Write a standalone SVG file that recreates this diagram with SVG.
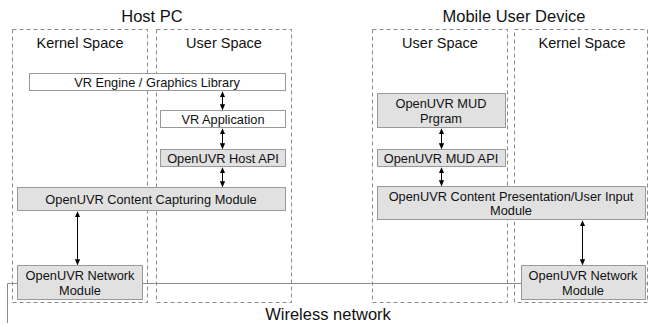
<svg xmlns="http://www.w3.org/2000/svg" width="651" height="324" viewBox="0 0 651 324">
<defs>
<marker id="ah" viewBox="0 0 8 8" refX="7" refY="4" markerWidth="6" markerHeight="6" orient="auto-start-reverse" markerUnits="userSpaceOnUse">
<path d="M0,0.5 L8,4 L0,7.5 Z" fill="#000"/>
</marker>
<style>
text{font-family:"Liberation Sans",Arial,Helvetica,sans-serif;fill:#111;text-anchor:middle}
.title{font-size:16.5px}
.sp{font-size:14.5px}
.bt{font-size:12.8px}
.dash{fill:none;stroke:#8a8a8a;stroke-width:1;stroke-dasharray:4,3}
.w{fill:#fff;stroke:#999;stroke-width:1}
.g{fill:#e1e1e1;stroke:#999;stroke-width:1}
.arr{stroke:#000;stroke-width:1;fill:none;marker-start:url(#ah);marker-end:url(#ah)}
.net{fill:none;stroke:#8a8a8a;stroke-width:1}
</style>
</defs>
<rect width="651" height="324" fill="#fff"/>

<g id="wireless">
<polyline class="net" points="7.5,323 7.5,283.5 648,283.5"/>
<text class="title" x="328" y="320">Wireless network</text>
</g>

<g id="host-pc">
<text class="title" x="152" y="22">Host PC</text>
<g id="host-kernel">
<rect class="dash" x="12.5" y="29.5" width="135" height="273"/>
<text class="sp" x="80" y="48">Kernel Space</text>
</g>
<g id="host-user">
<rect class="dash" x="156.5" y="29.5" width="135" height="273"/>
<text class="sp" x="224" y="48">User Space</text>
</g>
</g>

<g id="mud">
<text class="title" x="514" y="22">Mobile User Device</text>
<g id="mud-user">
<rect class="dash" x="372.5" y="29.5" width="135" height="273"/>
<text class="sp" x="440" y="48">User Space</text>
</g>
<g id="mud-kernel">
<rect class="dash" x="514.5" y="29.5" width="133" height="273"/>
<text class="sp" x="582" y="48">Kernel Space</text>
</g>
</g>

<g id="vr-engine">
<rect class="w" x="29.5" y="73.5" width="256" height="17"/>
<text class="bt" x="157" y="86.5">VR Engine / Graphics Library</text>
</g>
<g id="vr-app">
<rect class="w" x="160.5" y="110.5" width="125" height="17"/>
<text class="bt" x="223" y="123.5">VR Application</text>
</g>
<g id="host-api">
<rect class="g" x="160.5" y="149.5" width="125" height="17"/>
<text class="bt" x="223" y="162.5">OpenUVR Host API</text>
</g>
<g id="capture">
<rect class="g" x="17.5" y="187.5" width="268" height="23"/>
<text class="bt" x="151" y="203.5">OpenUVR Content Capturing Module</text>
</g>
<g id="host-net">
<rect class="g" x="17.5" y="265.5" width="125" height="34"/>
<text class="bt" x="80" y="279.5">OpenUVR Network</text>
<text class="bt" x="80" y="294.5">Module</text>
</g>

<g id="mud-program">
<rect class="g" x="377.5" y="93.5" width="128" height="34"/>
<text class="bt" x="441" y="108">OpenUVR MUD</text>
<text class="bt" x="441" y="122.5">Prgram</text>
</g>
<g id="mud-api">
<rect class="g" x="377.5" y="149.5" width="128" height="17"/>
<text class="bt" x="441" y="162.5">OpenUVR MUD API</text>
</g>
<g id="presentation">
<rect class="g" x="377.5" y="186.5" width="268" height="33"/>
<text class="bt" x="511" y="201">OpenUVR Content Presentation/User Input</text>
<text class="bt" x="511" y="215">Module</text>
</g>
<g id="mud-net">
<rect class="g" x="521.5" y="265.5" width="124" height="34"/>
<text class="bt" x="583" y="279.5">OpenUVR Network</text>
<text class="bt" x="583" y="294.5">Module</text>
</g>

<g id="connectors">
<line class="arr" x1="222.5" y1="92" x2="222.5" y2="109.5"/>
<line class="arr" x1="222.5" y1="129" x2="222.5" y2="148.5"/>
<line class="arr" x1="222.5" y1="168" x2="222.5" y2="186.5"/>
<line class="arr" x1="77.5" y1="212" x2="77.5" y2="264.5"/>
<line class="arr" x1="441.5" y1="129" x2="441.5" y2="148.5"/>
<line class="arr" x1="441.5" y1="168" x2="441.5" y2="185.5"/>
<line class="arr" x1="582.5" y1="221" x2="582.5" y2="264.5"/>
</g>
</svg>
